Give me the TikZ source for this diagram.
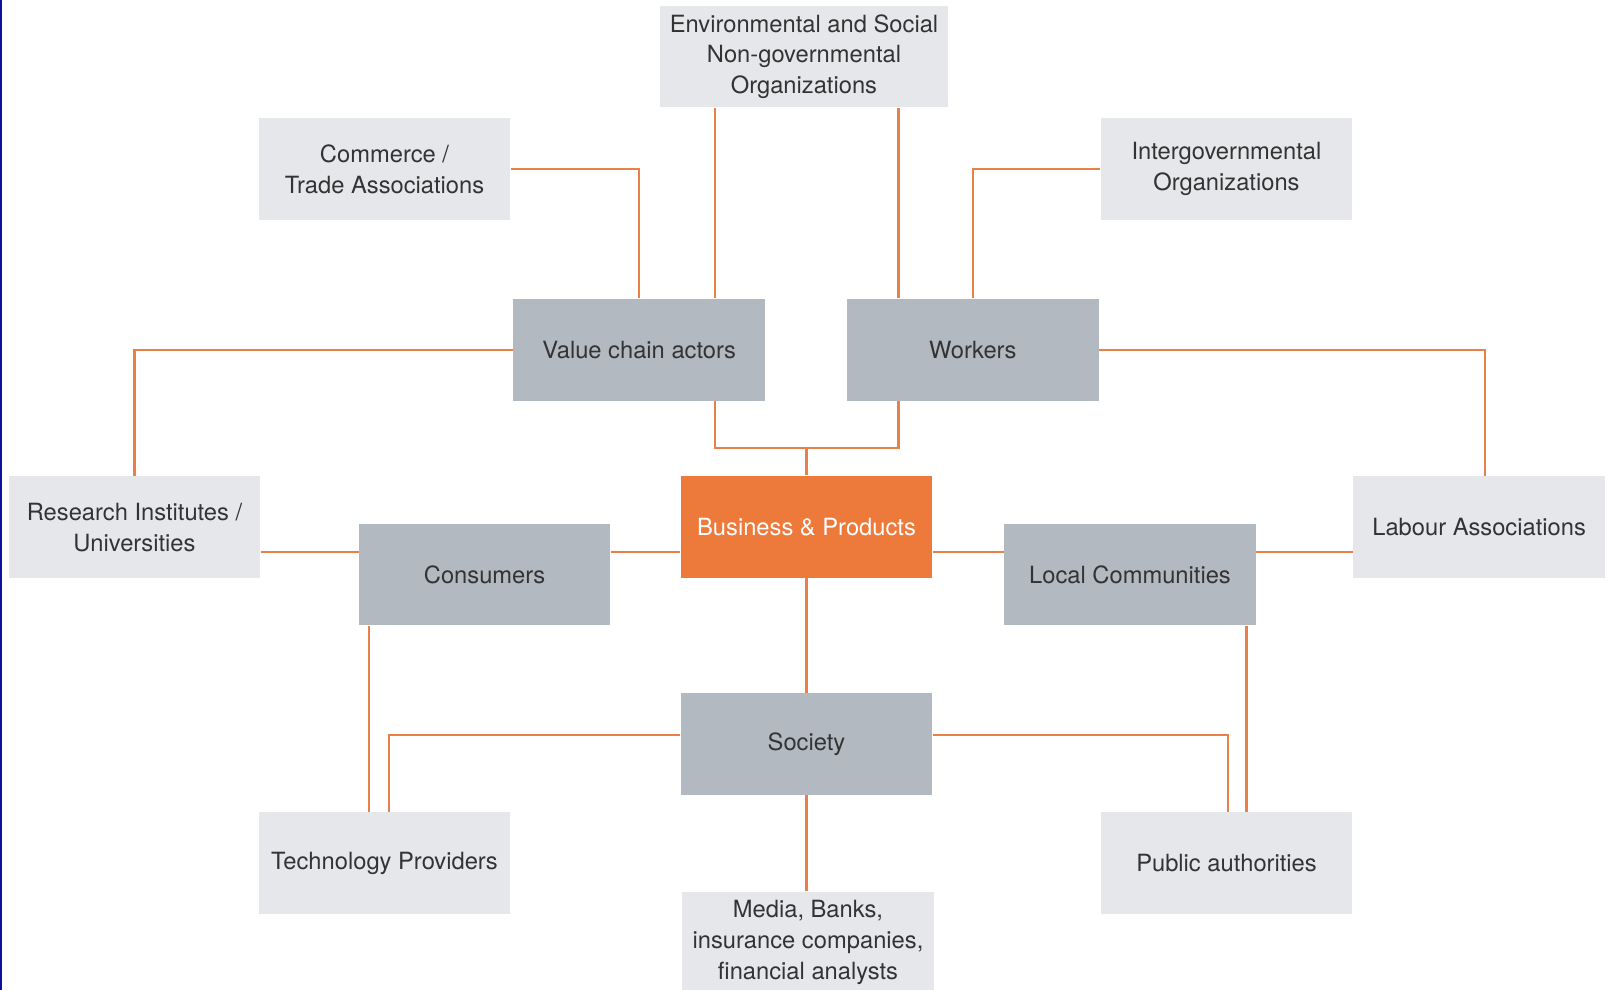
\documentclass[tikz,border=0pt]{standalone}
\usepackage{fontspec}
\setmainfont{TeX Gyre Heros}
\usepackage{tikz}
\definecolor{lightbox}{RGB}{229,231,234}
\definecolor{darkbox}{RGB}{178,185,193}
\definecolor{corebox}{RGB}{237,122,59}
\definecolor{link}{RGB}{232,128,72}
\definecolor{textgrey}{RGB}{51,51,51}
\definecolor{edgeblue}{RGB}{16,16,160}
\tikzstyle{outer} = [rectangle, fill=lightbox, text=textgrey,
    minimum height=2.04cm, minimum width=5.03cm, inner sep=0pt]
\tikzstyle{inner} = [outer, fill=darkbox]
\tikzstyle{core} = [outer, fill=corebox, text=white]
\tikzstyle{line} = [draw=link, line width=1.2pt]

\begin{document}
\begin{tikzpicture}[x=0.02cm, y=-0.02cm, align=center, font=\fontsize{13.5}{17.5}\selectfont]
        \useasboundingbox (0,0) rectangle (1610,990);
        \fill[edgeblue] (0,0) rectangle (2.5,990);
        \begin{scope}
        \node[outer, minimum width=5.75cm, name=ngo] at (804,56.5) {Environmental and Social\\Non-governmental\\Organizations};
        \node[outer, name=trade] at (384.5,169) {Commerce /\\Trade Associations};
        \node[outer, name=igo] at (1226.5,169) {Intergovernmental\\Organizations};
        \node[inner, name=valuechain] at (639.2,349.6) {Value chain actors};
        \node[inner, name=workers] at (972.9,349.6) {Workers};
        \node[outer, name=research] at (134.5,527.3) {Research Institutes /\\Universities};
        \node[core, name=business] at (806.5,526.8) {Business \& Products};
        \node[outer, name=labour] at (1479.1,527.3) {Labour Associations};
        \node[inner, name=consumers] at (484.6,574.5) {Consumers};
        \node[inner, name=locals] at (1130,574.5) {Local Communities};
        \node[inner, name=society] at (806.5,743.9) {Society};
        \node[outer, name=tech] at (384.5,863) {Technology Providers};
        \node[outer, name=public] at (1226.5,863) {Public authorities};
        \node[outer, name=media] at (808,942.5) {Media, Banks,\\insurance companies,\\financial analysts};

        \coordinate (colA) at (714.7,0);
        \coordinate (colB) at (898.5,0);
        \coordinate (colC) at (368.6,0);
        \coordinate (colD) at (389.2,0);
        \coordinate (colE) at (1228,0);
        \coordinate (colF) at (1246.5,0);
        \coordinate (colG) at (1484.7,0);
        \coordinate (rowA) at (0,447.7);
        \coordinate (rowB) at (0,552.4);
        \coordinate (rowC) at (0,735.2);

        \draw[line] (trade.east) -| (valuechain.north);
        \draw[line] (ngo.south -| colA) -- (valuechain.north -| colA);
        \draw[line] (ngo.south -| colB) -- (workers.north -| colB);
        \draw[line] (igo.west) -| (workers.north);
        \draw[line] (valuechain.west) -| (research.north);
        \draw[line] (workers.east) -| (labour.north -| colG);
        \draw[line] (valuechain.south -| colA) |- (rowA -| colB) -- (workers.south -| colB);
        \draw[line] (rowA -| business.north) -- (business.north);
        \draw[line] (research.east |- rowB) -- (consumers.west |- rowB);
        \draw[line] (consumers.east |- rowB) -- (business.west |- rowB);
        \draw[line] (business.east |- rowB) -- (locals.west |- rowB);
        \draw[line] (locals.east |- rowB) -- (labour.west |- rowB);
        \draw[line] (business.south) -- (society.north);
        \draw[line] (consumers.south -| colC) -- (tech.north -| colC);
        \draw[line] (society.west |- rowC) -| (tech.north -| colD);
        \draw[line] (society.east |- rowC) -| (public.north -| colE);
        \draw[line] (locals.south -| colF) -- (public.north -| colF);
        \draw[line] (society.south) -- (society.south |- media.north);
        \end{scope}
    \end{tikzpicture}
\end{document}
